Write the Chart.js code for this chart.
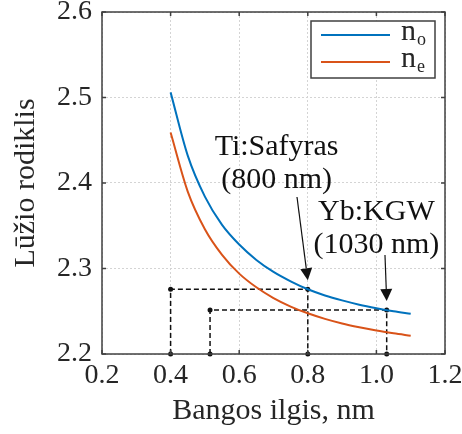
<!DOCTYPE html>
<html>
<head>
<meta charset="utf-8">
<script src="https://cdn.jsdelivr.net/npm/chart.js@4/dist/chart.umd.min.js"></script>
<style>
  html, body { margin: 0; padding: 0; background: #fff; }
  #wrap { width: 462px; height: 434px; }
</style>
</head>
<body>
<div id="wrap"><canvas id="chart"></canvas></div>
<script>
// Wavelength grid (um) and the two refractive index curves
var wavelengths = [0.40, 0.45, 0.50, 0.55, 0.60, 0.65, 0.70, 0.75, 0.80, 0.85, 0.90, 0.95, 1.00, 1.05, 1.10];
var nOrdinary   = [2.506, 2.432, 2.384, 2.351, 2.328, 2.310, 2.296, 2.285, 2.2757, 2.2685, 2.2627, 2.2577, 2.2536, 2.2500, 2.247];
var nExtra      = [2.459, 2.390, 2.346, 2.316, 2.294, 2.278, 2.2654, 2.2555, 2.2476, 2.2411, 2.2357, 2.2313, 2.2274, 2.2242, 2.2214];
var seriesNames = ['n_o', 'n_e'];

// Laser lines: fundamental, its second harmonic (um) and index at the fundamental
var laserNames = ['Ti:Safyras', 'Yb:KGW'];
var laserNm    = ['(800 nm)', '(1030 nm)'];
var pumpWl     = [0.8, 1.03];
var shgWl      = [0.4, 0.515];
var pumpIndex  = [2.2757, 2.2515];

var axisMin = 2.2;

// where the callout text sits and where each arrow starts (data units)
var callouts = [
  { text: [0.709, 2.442], arrow: [0.7685, 2.3836] },
  { text: [1.000, 2.366], arrow: [1.025, 2.3158] }
];

var serifFace = "'Liberation Serif', serif";
var ink = '#262626';
var blue = '#0072BD';
var orange = '#D95319';

function xy(xsArr, ysArr) {
  return xsArr.map(function(x, i) { return { x: x, y: ysArr[i] }; });
}

var datasets = [
  { label: seriesNames[0], data: xy(wavelengths, nOrdinary), borderColor: blue, borderWidth: 2,
    pointRadius: 0, cubicInterpolationMode: 'monotone', fill: false },
  { label: seriesNames[1], data: xy(wavelengths, nExtra), borderColor: orange, borderWidth: 2,
    pointRadius: 0, cubicInterpolationMode: 'monotone', fill: false }
];

// dashed guides: harmonic -> index level -> fundamental -> axis
pumpWl.forEach(function(wl, i) {
  datasets.push({
    label: 'guide' + i,
    data: [
      { x: shgWl[i], y: axisMin },
      { x: shgWl[i], y: pumpIndex[i] },
      { x: wl, y: pumpIndex[i] },
      { x: wl, y: axisMin }
    ],
    borderColor: '#111', borderWidth: 1.5, borderDash: [5, 3],
    pointRadius: 2.5, pointBackgroundColor: '#111', pointBorderWidth: 0,
    tension: 0, clip: false, fill: false
  });
});

function arrow(ctx, x0, y0, x1, y1) {
  var ang = Math.atan2(y1 - y0, x1 - x0);
  var len = 12, half = 6;
  var bx = x1 - len * Math.cos(ang), by = y1 - len * Math.sin(ang);
  ctx.beginPath();
  ctx.moveTo(x0, y0);
  ctx.lineTo(bx, by);
  ctx.stroke();
  ctx.beginPath();
  ctx.moveTo(x1, y1);
  ctx.lineTo(bx + half * Math.sin(ang), by - half * Math.cos(ang));
  ctx.lineTo(bx - half * Math.sin(ang), by + half * Math.cos(ang));
  ctx.closePath();
  ctx.fill();
}

var decorations = {
  id: 'decorations',
  afterDatasetsDraw: function(chart) {
    var ctx = chart.ctx, a = chart.chartArea;
    var xs = chart.scales.x, ys = chart.scales.y;
    ctx.save();

    // callout text and arrows
    ctx.fillStyle = '#111';
    ctx.strokeStyle = '#111';
    ctx.lineWidth = 1.2;
    ctx.font = '30px ' + serifFace;
    ctx.textAlign = 'center';
    ctx.textBaseline = 'middle';
    callouts.forEach(function(c, i) {
      var tx = xs.getPixelForValue(c.text[0]), ty = ys.getPixelForValue(c.text[1]);
      ctx.fillText(laserNames[i], tx, ty);
      ctx.fillText(laserNm[i], tx, ty + 33);
      var px = xs.getPixelForValue(pumpWl[i]), py = ys.getPixelForValue(pumpIndex[i]);
      arrow(ctx, xs.getPixelForValue(c.arrow[0]), ys.getPixelForValue(c.arrow[1]), px, py - 9);
    });

    // axes box with inward ticks
    ctx.strokeStyle = '#404040';
    ctx.lineWidth = 1.5;
    ctx.strokeRect(a.left, a.top, a.right - a.left, a.bottom - a.top);
    ctx.beginPath();
    xs.ticks.forEach(function(t) {
      var x = xs.getPixelForValue(t.value);
      ctx.moveTo(x, a.bottom); ctx.lineTo(x, a.bottom - 4);
      ctx.moveTo(x, a.top); ctx.lineTo(x, a.top + 4);
    });
    ys.ticks.forEach(function(t) {
      var y = ys.getPixelForValue(t.value);
      ctx.moveTo(a.left, y); ctx.lineTo(a.left + 4, y);
      ctx.moveTo(a.right, y); ctx.lineTo(a.right - 4, y);
    });
    ctx.stroke();

    // legend with subscripted labels
    var lx = a.right - 134, ly = a.top + 9, lw = 124, lh = 57;
    ctx.fillStyle = '#fff';
    ctx.fillRect(lx, ly, lw, lh);
    ctx.strokeStyle = '#404040';
    ctx.lineWidth = 1.5;
    ctx.strokeRect(lx, ly, lw, lh);
    ctx.textAlign = 'left';
    ctx.textBaseline = 'alphabetic';
    [0, 1].forEach(function(i) {
      var ds = chart.data.datasets[i];
      var y = ly + 14 + i * 27;
      ctx.strokeStyle = ds.borderColor;
      ctx.lineWidth = 2;
      ctx.beginPath();
      ctx.moveTo(lx + 10, y);
      ctx.lineTo(lx + 79, y);
      ctx.stroke();
      var parts = ds.label.split('_');
      ctx.fillStyle = ink;
      ctx.font = '30px ' + serifFace;
      ctx.fillText(parts[0], lx + 90, y + 5);
      var w = ctx.measureText(parts[0]).width;
      ctx.font = '18px ' + serifFace;
      ctx.fillText(parts[1], lx + 91 + w, y + 10);
    });
    ctx.restore();
  }
};

new Chart(document.getElementById('chart'), {
  type: 'line',
  data: { datasets: datasets },
  options: {
    responsive: true,
    maintainAspectRatio: false,
    animation: false,
    layout: { padding: { top: 12, right: 17, bottom: 0, left: 0 } },
    plugins: { legend: { display: false }, tooltip: { enabled: false } },
    scales: {
      x: {
        type: 'linear', min: 0.2, max: 1.2,
        ticks: { stepSize: 0.2, padding: 5, color: ink, font: { family: serifFace, size: 28 } },
        grid: { color: '#d4d4d4', lineWidth: 1, drawTicks: false },
        border: { display: false, dash: [2, 2] },
        title: { display: true, text: 'Bangos ilgis, nm', color: ink,
                 font: { family: serifFace, size: 30 }, padding: { top: 0, bottom: 5 } },
        afterFit: function(s) { s.height = 80; s.paddingLeft = 0; s.paddingRight = 0; }
      },
      y: {
        type: 'linear', min: 2.2, max: 2.6,
        ticks: { stepSize: 0.1, padding: 10, color: ink, font: { family: serifFace, size: 28 } },
        grid: { color: '#d4d4d4', lineWidth: 1, drawTicks: false },
        border: { display: false, dash: [2, 2] },
        title: { display: true, text: 'Lūžio rodiklis', color: ink,
                 font: { family: serifFace, size: 30 }, padding: { top: 8, bottom: 0 } },
        afterFit: function(s) { s.width = 102; s.paddingTop = 0; s.paddingBottom = 0; }
      }
    }
  },
  plugins: [decorations]
});
</script>
</body>
</html>
